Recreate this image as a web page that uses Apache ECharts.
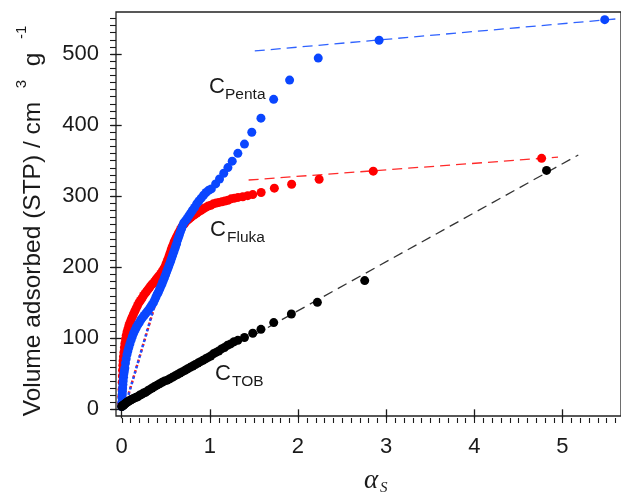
<!DOCTYPE html>
<html><head><meta charset="utf-8">
<script src="https://cdn.jsdelivr.net/npm/echarts@6.0.0/dist/echarts.min.js"></script>
<style>html,body{margin:0;padding:0;background:#fff}#c{width:621px;height:495px}</style>
</head><body><div id="c"></div>
<script>
// ---- data ----
const pentaAlpha = [0.000,0.002,0.004,0.006,0.008,0.011,0.014,0.017,0.021,0.025,0.030,0.036,0.043,0.051,0.060,0.070,0.081,0.093,0.106,0.120,0.135,0.150,0.166,0.183,0.200,0.218,0.236,0.255,0.274,0.293,0.311,0.328,0.344,0.360,0.375,0.389,0.403,0.417,0.431,0.445,0.459,0.472,0.485,0.497,0.509,0.521,0.533,0.545,0.557,0.568,0.579,0.590,0.601,0.612,0.623,0.634,0.645,0.656,0.667,0.679,0.691,0.704,0.722,0.741,0.761,0.782,0.804,0.827,0.851,0.876,0.902,0.929,0.957,0.986,1.017,1.066,1.110,1.158,1.205,1.254,1.318,1.393,1.476,1.580,1.724,1.905,2.230,2.920,5.480];
const pentaVol   = [4,10,16,21,25,30,35,40,45,50,54,58,65,71,77,82,87,92,97,102,107,111,115,119,122,126,129,132,135,138,141,144,147,150,154,158,162,165,169,173,177,181,185,189,193,197,201,205,209,213,217,221,225,229,233,238,242,246,250,254,258,262,265,268,272,276,280,284,289,293,297,301,305,308,310,317,324,332,340,349,360,373,389.6,409.5,436,463,494,519,548];

const flukaAlpha = [0.000,0.002,0.004,0.006,0.008,0.010,0.013,0.016,0.020,0.025,0.031,0.037,0.044,0.052,0.061,0.071,0.082,0.094,0.107,0.120,0.134,0.149,0.164,0.180,0.196,0.213,0.230,0.248,0.266,0.284,0.302,0.320,0.338,0.356,0.374,0.392,0.410,0.427,0.444,0.460,0.475,0.489,0.502,0.515,0.527,0.539,0.550,0.561,0.572,0.583,0.594,0.605,0.617,0.629,0.641,0.654,0.667,0.681,0.696,0.712,0.729,0.747,0.766,0.786,0.807,0.829,0.852,0.876,0.901,0.927,0.954,0.982,1.011,1.041,1.072,1.104,1.137,1.171,1.206,1.242,1.280,1.320,1.374,1.430,1.487,1.582,1.732,1.928,2.240,2.854,4.764];
const flukaVol   = [8,18,28,38,47,55,62,68,74,80,87,93,99,104,109,113,118,122,126,130,134,138,142,146,150,153,156,160,163,166,169,172,175,177,180,183,186,188,191,194,197,200,204,208,212,216,220,224,228,231,235,238,241,244,247,250,253,256,259,261,264,266,268,270,272,274,276,278,280,282,284,286,287,289,290,291,292,293,294,296,297,298,299,300.5,302,305,311,316.5,323.5,335,353];

const tobAlpha = [0.000,0.005,0.010,0.016,0.023,0.031,0.040,0.050,0.061,0.073,0.086,0.100,0.115,0.131,0.148,0.166,0.185,0.205,0.226,0.248,0.271,0.295,0.320,0.346,0.373,0.401,0.430,0.459,0.488,0.517,0.546,0.575,0.604,0.633,0.662,0.691,0.720,0.749,0.778,0.807,0.836,0.865,0.894,0.923,0.952,0.981,1.010,1.040,1.070,1.101,1.133,1.166,1.200,1.236,1.274,1.318,1.393,1.487,1.580,1.725,1.925,2.220,2.757,4.820];
const tobVol   = [4,4.5,5,5.5,6,7,8,9,10,11,12,13,14,15,16,17,18,20,21,23,24,26,28,30,32,34,36,38,40,41,43,45,47,49,51,53,55,57,59,61,63,65,67,69,71,73,75,78,80,82,85,87,90,92,95,97,101,107,112.5,122,134,150.5,181,336];

// linear fits (end points)
const pentaFitAlpha = [1.51, 5.66];  const pentaFitVol = [504, 549.6];
const flukaFitAlpha = [1.44, 4.95];  const flukaFitVol = [322.5, 354.7];
const tobFitAlpha   = [1.50, 5.18];  const tobFitVol   = [104.2, 357.7];
// low-pressure reference lines (dotted)
const pentaLowAlpha = [0.06, 0.49];  const pentaLowVol = [13, 196];
const flukaLowAlpha = [0.08, 0.50];  const flukaLowVol = [22, 198];

const xTickLabels = [0, 1, 2, 3, 4, 5];
const yTickLabels = [0, 100, 200, 300, 400, 500];

// ---- build ----
const pairs = (a, b) => a.map((v, i) => [v, b[i]]);
const xMinor = []; for (let i = 0; i <= 56; i++) xMinor.push(+(i / 10).toFixed(2));
const yMinor = []; for (let i = 0; i <= 55; i++) yMinor.push(i * 10);
const SANS = '"Liberation Sans", Arial, sans-serif';
const SERIF = '"Liberation Serif", "Times New Roman", serif';
const INK = '#1a1a1a';
const XMIN = -0.0644, XMAX = 5.6645, YMIN = -9.4, YMAX = 558.8;

const chart = echarts.init(document.getElementById('c'), null, {renderer: 'canvas'});

function scatter(name, a, b, color, z) {
  return {name, type: 'scatter', data: pairs(a, b), symbol: 'circle', symbolSize: 9,
    itemStyle: {color, opacity: 1}, z, silent: true};
}
function fit(a, b, color, dash, w) {
  return {type: 'line', data: pairs(a, b), symbol: 'none', silent: true, z: 1,
    lineStyle: {color, width: w, type: dash}};
}
// minor ticks drawn through the axis scales
const xMinorSeries = {type: 'custom', silent: true, clip: false, z: 6,
  data: xMinor.map(v => [v, YMIN]),
  renderItem: (params, api) => {
    const p = api.coord([api.value(0), api.value(1)]);
    const x = Math.round(p[0]) + 0.5;
    return {type: 'line', shape: {x1: x, y1: p[1] + 2, x2: x, y2: p[1] + 7}, style: {stroke: INK, lineWidth: 1.1}};
  }};
const yMinorSeries = {type: 'custom', silent: true, clip: false, z: 6,
  data: yMinor.map(v => [XMIN, v]),
  renderItem: (params, api) => {
    const p = api.coord([api.value(0), api.value(1)]);
    const y = Math.round(p[1]) + 0.5;
    return {type: 'line', shape: {x1: p[0] - 6, y1: y, x2: p[0], y2: y}, style: {stroke: INK, lineWidth: 1.1}};
  }};

chart.setOption({
  animation: false,
  backgroundColor: '#fff',
  grid: {left: 116, top: 12, right: -2, bottom: 79, show: true, borderColor: '#222', borderWidth: 1.3, backgroundColor: 'transparent'},
  xAxis: {type: 'value', min: XMIN, max: XMAX, position: 'bottom', offset: 2,
    axisLine: {show: false}, splitLine: {show: false},
    axisTick: {show: true, length: 9, customValues: xTickLabels, lineStyle: {color: INK, width: 1.3}},
    axisLabel: {customValues: xTickLabels, margin: 18, fontSize: 22, color: INK, fontFamily: SANS}},
  yAxis: {type: 'value', min: YMIN, max: YMAX, position: 'left',
    axisLine: {show: false}, splitLine: {show: false},
    axisTick: {show: true, length: 11, customValues: yTickLabels, lineStyle: {color: INK, width: 1.3}},
    axisLabel: {customValues: yTickLabels, margin: 17, fontSize: 22, color: INK, fontFamily: SANS}},
  series: [
    fit(pentaFitAlpha, pentaFitVol, '#2f62ff', [10, 6], 1.3),
    fit(flukaFitAlpha, flukaFitVol, '#ff2a2a', [10, 6], 1.3),
    fit(tobFitAlpha, tobFitVol, '#333333', [10, 6], 1.3),
    fit(flukaLowAlpha, flukaLowVol, '#ff1a1a', [2.5, 3], 2.5),
    fit(pentaLowAlpha, pentaLowVol, '#1f4fff', [2.5, 3], 2.5),
    scatter('C Fluka', flukaAlpha, flukaVol, '#ff0000', 3),
    scatter('C Penta', pentaAlpha, pentaVol, '#0a46ff', 4),
    scatter('C TOB', tobAlpha, tobVol, '#000000', 5),
    xMinorSeries,
    yMinorSeries
  ],
  graphic: [
    {type: 'text', x: 33, y: 221, rotation: Math.PI / 2, silent: true, z: 10,
      style: {text: '{n|Volume adsorbed (STP) / cm  }{s|3}{n|  g  }{s|-1}', align: 'center', verticalAlign: 'middle',
        rich: {n: {fontSize: 24.5, lineHeight: 38, fill: INK, fontFamily: SANS},
               s: {fontSize: 15, lineHeight: 13, verticalAlign: 'top', fill: INK, fontFamily: SANS}}}},
    {type: 'text', x: 364, y: 481, silent: true, style: {text: 'α', font: 'italic 27px ' + SERIF, fill: INK, align: 'left', verticalAlign: 'middle'}},
    {type: 'text', x: 380, y: 488, silent: true, style: {text: 'S', font: 'italic 15px ' + SERIF, fill: INK, align: 'left', verticalAlign: 'middle'}},
    {type: 'text', x: 209, y: 87, silent: true, style: {text: 'C', font: '22px ' + SANS, fill: INK, align: 'left', verticalAlign: 'middle'}},
    {type: 'text', x: 225, y: 95, silent: true, style: {text: 'Penta', font: '15.5px ' + SANS, fill: INK, align: 'left', verticalAlign: 'middle'}},
    {type: 'text', x: 210, y: 230, silent: true, style: {text: 'C', font: '22px ' + SANS, fill: INK, align: 'left', verticalAlign: 'middle'}},
    {type: 'text', x: 227, y: 238, silent: true, style: {text: 'Fluka', font: '15.5px ' + SANS, fill: INK, align: 'left', verticalAlign: 'middle'}},
    {type: 'text', x: 215, y: 374, silent: true, style: {text: 'C', font: '22px ' + SANS, fill: INK, align: 'left', verticalAlign: 'middle'}},
    {type: 'text', x: 232, y: 382, silent: true, style: {text: 'TOB', font: '15.5px ' + SANS, fill: INK, align: 'left', verticalAlign: 'middle'}}
  ]
});
</script>
</body></html>
